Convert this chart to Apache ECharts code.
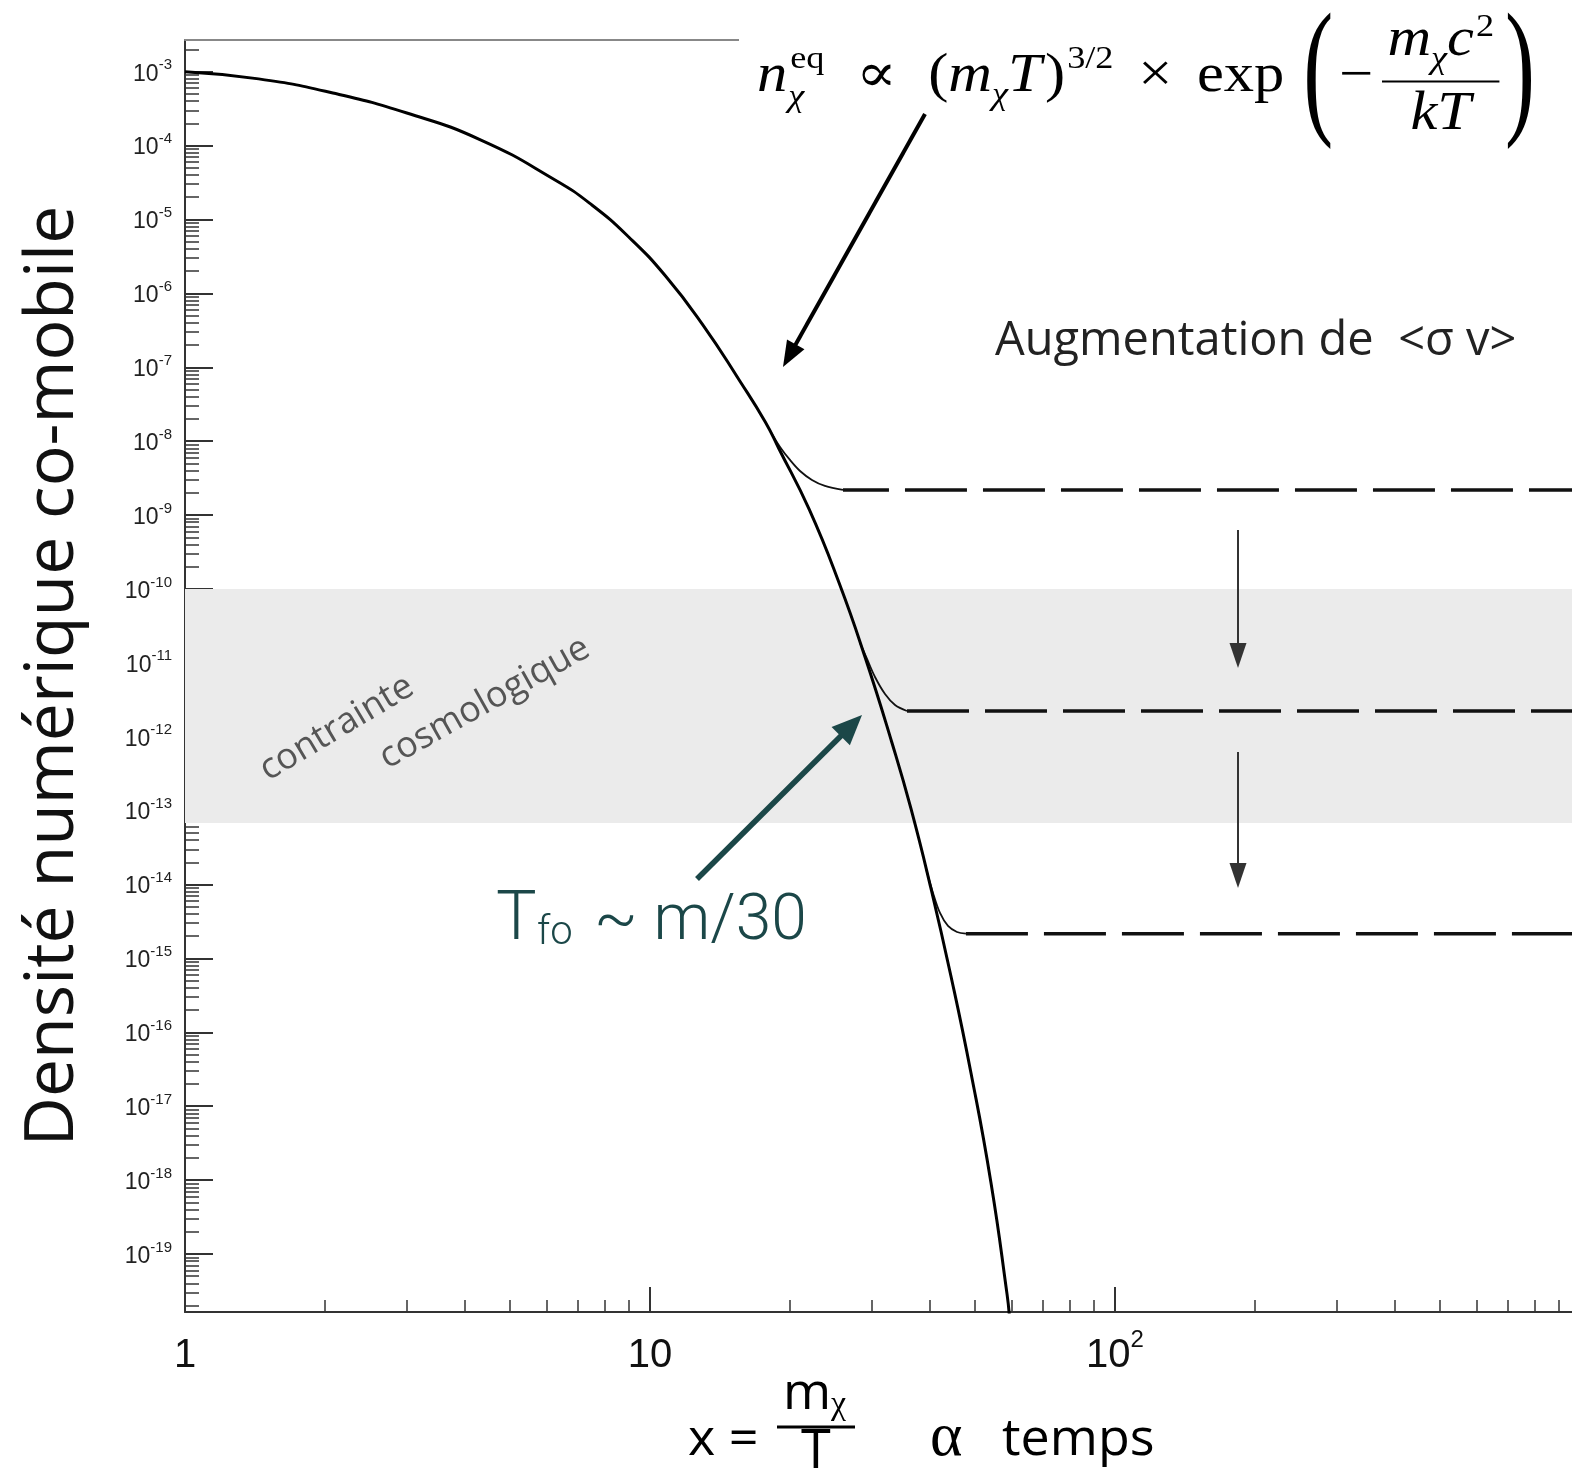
<!DOCTYPE html>
<html><head><meta charset="utf-8">
<script src="https://cdn.jsdelivr.net/npm/echarts@6/dist/echarts.min.js"></script>
<style>html,body{margin:0;padding:0;background:#fff}#c{width:1572px;height:1471px}</style>
</head><body><div id="c"></div>
<script>
// ---------- data ----------
const eqX = [1, 1.44, 2.08, 3.0, 4.33, 6.25, 7.5, 9.0, 10.8, 13.0, 15.6, 17.7, 18.9, 22.0, 25.5, 29.0, 33.1, 36.4, 40.2, 44.4, 49.0, 54.1, 58.6, 59.3];
const eqY = [1.0e-3, 8.0e-4, 5.15e-4, 2.76e-4, 1.19e-4, 3.43e-5, 1.57e-5, 5.8e-6, 1.72e-6, 3.73e-7, 6.53e-8, 1.82e-8, 8.09e-9, 1.19e-9, 1.21e-10, 1.20e-11, 8.5e-13, 1.07e-13, 8.85e-15, 5.7e-16, 2.84e-17, 9.3e-19, 2.84e-20, 1.41e-20];
const fo1X = [18.12, 19.04, 20.0, 21.02, 22.30, 23.78, 26.0];
const fo1Y = [1.39e-8, 8.36e-9, 5.57e-9, 3.95e-9, 2.99e-9, 2.48e-9, 2.19e-9];
const fo2X = [28.29, 29.29, 30.47, 32.02, 33.65, 35.7];
const fo2Y = [1.86e-11, 1.13e-11, 6.44e-12, 3.79e-12, 2.69e-12, 2.23e-12];
const fo3X = [39.23, 40.61, 42.04, 43.74, 45.73, 47.8];
const fo3Y = [1.65e-14, 7.69e-15, 4.12e-15, 2.75e-15, 2.28e-15, 2.16e-15];
const plateauStart = [26.0, 35.7, 47.8];
const plateauEnd = 1000;
const plateauY = [2.19e-9, 2.23e-12, 2.16e-15];
const bandY = [6.8e-14, 1e-10];
// tick values
const xMajor = [1, 10, 100, 1000];
const xLabelled = [1, 10, 100];
const yMajorExp = [-3, -4, -5, -6, -7, -8, -9, -10, -11, -12, -13, -14, -15, -16, -17, -18, -19];
const minorMult = [2, 3, 4, 5, 6, 7, 8, 9];

// ---------- axis ranges ----------
const xMin = 1, xMax = 1000;
const yMin = Math.pow(10, -19.785), yMax = Math.pow(10, -2.571);
const yMajor = yMajorExp.map(e => Math.pow(10, e));
const xMinor = [];
[1, 10, 100].forEach(d => minorMult.forEach(m => xMinor.push(m * d)));
const yMinor = [];
for (let k = -20; k <= -3; k++) minorMult.forEach(m => { const v = m * Math.pow(10, k); if (v > yMin && v < yMax) yMinor.push(v); });

const sans = "'Open Sans','Noto Sans',sans-serif";
const lab = "'Liberation Sans',Arial,sans-serif";
const serif = "'Liberation Serif','DejaVu Serif',serif";
const light = "Roboto,'Open Sans',sans-serif";
const teal = '#1b4748';

function pairs(xs, ys) { return xs.map((x, i) => [x, ys[i]]); }

// ---------- graphic helpers ----------
const mctx = document.createElement('canvas').getContext('2d');
function tw(t, font) { mctx.font = font; return mctx.measureText(t).width; }
const G = [];
function fontOf(size, o) { return (o.italic ? 'italic ' : '') + (o.weight ? o.weight + ' ' : '') + size + 'px ' + (o.family || serif); }
function txt(t, x, base, size, opts) {
  opts = opts || {};
  const font = fontOf(size, opts);
  G.push({ type: 'text', z: 60, x: x, y: base - (opts.mid || 0.34) * size, scaleX: opts.sx || 1,
    style: { text: t, x: 0, y: 0, font: font, fill: opts.color || '#000', align: 'left', verticalAlign: 'middle' } });
  return tw(t, font) * (opts.sx || 1);
}
function arrow(x1, y1, x2, y2, color, w, hl, hw) {
  const dx = x2 - x1, dy = y2 - y1, L = Math.hypot(dx, dy), ux = dx / L, uy = dy / L;
  const bx = x2 - ux * hl, by = y2 - uy * hl, px = -uy, py = ux;
  G.push({ type: 'line', z: 55, shape: { x1: x1, y1: y1, x2: bx + ux * 2, y2: by + uy * 2 }, style: { stroke: color, lineWidth: w } });
  G.push({ type: 'polygon', z: 55, shape: { points: [[x2, y2], [bx + px * hw / 2, by + py * hw / 2], [bx - px * hw / 2, by - py * hw / 2]] }, style: { fill: color } });
}

// white box behind the formula
G.push({ type: 'rect', z: 50, shape: { x: 739, y: 0, width: 840, height: 157 }, style: { fill: '#fff' } });

// formula  n^eq_chi ∝ (m_chi T)^{3/2} × exp(− m_chi c^2 / kT)
(function () {
  const F = 54, B = 95, SX = 1.12, X0 = 757, X1 = 1535;
  const A = B - 0.25 * F, PS = 150, PSX = 0.6;
  const seq = [
    { t: 'n', it: 1 },
    { stack: [{ t: 'eq', s: 0.6, dy: -0.45, dx: 3 }, { t: 'χ', s: 0.6, dy: 0.25, it: 1, dx: 1 }] },
    { gap: 0.28 }, { t: '∝' }, { gap: 0.28 },
    { t: '(' }, { t: 'm', it: 1 }, { t: 'χ', it: 1, s: 0.6, dy: 0.22 }, { t: 'T', it: 1 }, { gap: 0.03 }, { t: ')' },
    { t: '3/2', s: 0.6, dy: -0.45, dx: 2 },
    { gap: 0.22 }, { t: '×' }, { gap: 0.22 }, { t: 'exp' }, { gap: 0.17 },
    { paren: '(' }, { gap: 0.05 }, { t: '−' }, { gap: 0.08 }, { frac: 1 }, { gap: 0.05 }, { paren: ')' }
  ];
  const wOf = it => tw(it.t, fontOf((it.s || 1) * F, { italic: it.it })) * SX + (it.dx || 0);
  const num = [{ t: 'm', it: 1 }, { t: 'χ', it: 1, s: 0.6, dy: 0.22 }, { t: 'c', it: 1 }, { t: '2', s: 0.6, dy: -0.38, dx: 2 }];
  const numW = num.reduce((s, it) => s + wOf(it), 0);
  const denW = wOf({ t: 'kT', it: 1 });
  const fracW = Math.max(numW, denW) + 0.2 * F;
  const parW = tw('(', PS + 'px ' + serif) * PSX;
  let glyphs = 0, gaps = 0;
  seq.forEach(it => {
    if (it.gap != null) gaps += it.gap * F;
    else if (it.stack) glyphs += Math.max.apply(null, it.stack.map(wOf));
    else if (it.paren) glyphs += parW;
    else if (it.frac) glyphs += fracW;
    else glyphs += wOf(it);
  });
  const gs = Math.max(0.3, (X1 - X0 - glyphs) / gaps);
  let x = X0;
  const draw = (it, x0) => txt(it.t, x0 + (it.dx || 0), B + (it.dy || 0) * F, (it.s || 1) * F, { italic: it.it, sx: SX });
  seq.forEach(it => {
    if (it.gap != null) { x += it.gap * F * gs; return; }
    if (it.stack) { it.stack.forEach(s => draw(s, x)); x += Math.max.apply(null, it.stack.map(wOf)); return; }
    if (it.paren) { txt(it.paren, x, A + 1 + 0.31 * PS, PS, { sx: PSX }); x += parW; return; }
    if (it.frac) {
      const nb = A - 0.42 * F, db = A + 0.95 * F;
      let nx = x + (fracW - numW) / 2;
      num.forEach(n => { txt(n.t, nx + (n.dx || 0), nb + (n.dy || 0) * F, (n.s || 1) * F, { italic: n.it, sx: SX }); nx += wOf(n); });
      txt('kT', x + (fracW - denW) / 2, db, F, { italic: true, sx: SX });
      G.push({ type: 'line', z: 60, shape: { x1: x, y1: A, x2: x + fracW, y2: A }, style: { stroke: '#000', lineWidth: 2 } });
      x += fracW; return;
    }
    draw(it, x); x += wOf(it);
  });
})();

// arrows
arrow(925, 114, 783, 367, '#000', 4, 26, 20);
arrow(697, 879, 862, 715, teal, 5.5, 30, 26);
arrow(1238, 530, 1238, 668, '#333', 2, 25, 17);
arrow(1238, 752, 1238, 888, '#333', 2, 25, 17);

// texts
txt('Augmentation de  <σ v>', 995, 360, 47, { family: sans, color: '#222', mid: 0.388 });
txt('T', 496, 945, 68, { family: light, weight: 300, color: teal, mid: 0.342 });
txt('fo', 537, 948, 40, { family: light, weight: 300, color: teal, mid: 0.342 });
txt('~ m/30', 594, 945, 64, { family: light, weight: 300, color: teal, mid: 0.342 });

G.push({ type: 'text', z: 40, x: 272, y: 788, rotation: 0.54,
  style: { text: 'contrainte', font: '36px ' + sans, fill: '#555', align: 'left', verticalAlign: 'bottom' } });
G.push({ type: 'text', z: 40, x: 391, y: 776, rotation: 0.51,
  style: { text: 'cosmologique', font: '36px ' + sans, fill: '#555', align: 'left', verticalAlign: 'bottom' } });

// x axis title
txt('x =', 688, 1460, 52, { family: sans, color: '#000', mid: 0.388 });
txt('m', 783, 1414, 52, { family: sans, color: '#000', mid: 0.388 });
txt('χ', 831, 1417, 34, { family: serif, color: '#000' });
G.push({ type: 'line', z: 60, shape: { x1: 777, y1: 1427, x2: 855, y2: 1427 }, style: { stroke: '#000', lineWidth: 3 } });
txt('T', 801, 1474, 54, { family: sans, color: '#000', mid: 0.388 });
txt('α', 930, 1460, 62, { family: serif, color: '#000' });
txt('temps', 1002, 1460, 52, { family: sans, color: '#000', mid: 0.388 });

// ---------- chart ----------
const chart = echarts.init(document.getElementById('c'), null, { renderer: 'canvas' });
const ylabRich = {
  b: { fontSize: 23, fontFamily: lab, color: '#222', padding: [5, 0, 0, 0] },
  s: { fontSize: 15, fontFamily: lab, color: '#222', verticalAlign: 'top' }
};
const xlabRich = {
  b: { fontSize: 40, fontFamily: lab, color: '#111', padding: [8, 0, 0, 0] },
  s: { fontSize: 24, fontFamily: lab, color: '#111', verticalAlign: 'top' }
};
function logAxisX(extra) {
  return Object.assign({ type: 'log', logBase: 10, min: xMin, max: xMax, gridIndex: 0, splitLine: { show: false }, minorTick: { show: false } }, extra);
}
function logAxisY(extra) {
  return Object.assign({ type: 'log', logBase: 10, min: yMin, max: yMax, gridIndex: 0, splitLine: { show: false }, minorTick: { show: false } }, extra);
}

const lineBase = { type: 'line', symbol: 'none', clip: true, silent: true, xAxisIndex: 0, yAxisIndex: 0 };

const option = {
  animation: false,
  backgroundColor: '#fff',
  grid: { left: 185, top: 40, right: -8, bottom: 159, containLabel: false, outerBoundsMode: 'none' },
  xAxis: [
    logAxisX({ position: 'bottom',
      axisLine: { show: true, lineStyle: { color: '#333', width: 2 } },
      axisTick: { show: true, inside: true, length: 25, lineStyle: { color: '#333', width: 2 }, customValues: xMajor },
      axisLabel: { show: true, customValues: xLabelled, margin: 16,
        formatter: v => { const e = Math.round(Math.log10(v)); return e === 0 ? '{b|1}' : e === 1 ? '{b|10}' : '{b|10}{s|' + e + '}'; },
        rich: xlabRich } }),
    logAxisX({ position: 'bottom',
      axisLine: { show: false },
      axisTick: { show: true, inside: true, length: 12, lineStyle: { color: '#333', width: 1.5 }, customValues: xMinor },
      axisLabel: { show: false } }),
    logAxisX({ position: 'top',
      axisLine: { show: true, lineStyle: { color: '#888', width: 2 } },
      axisTick: { show: false }, axisLabel: { show: false } })
  ],
  yAxis: [
    logAxisY({ position: 'left',
      name: 'Densité numérique co-mobile', nameLocation: 'middle', nameGap: 97,
      nameTextStyle: { fontSize: 68, fontFamily: sans, color: '#111' },
      axisLine: { show: true, lineStyle: { color: '#333', width: 2 } },
      axisTick: { show: true, inside: true, length: 28, lineStyle: { color: '#333', width: 2 }, customValues: yMajor },
      axisLabel: { show: true, customValues: yMajor, margin: 13, align: 'right',
        formatter: v => '{b|10}{s|-' + Math.abs(Math.round(Math.log10(v))) + '}',
        rich: ylabRich } }),
    logAxisY({ position: 'left', offset: 0,
      axisLine: { show: false },
      axisTick: { show: true, inside: true, length: 14, lineStyle: { color: '#333', width: 1.5 }, customValues: yMinor },
      axisLabel: { show: false } })
  ],
  series: [
    Object.assign({}, lineBase, { name: 'band', data: [], z: 1,
      markArea: { silent: true, itemStyle: { color: '#ebebeb' },
        data: [[{ xAxis: xMin, yAxis: bandY[0] }, { xAxis: xMax, yAxis: bandY[1] }]] } }),
    Object.assign({}, lineBase, { name: 'eq', data: pairs(eqX, eqY), smooth: 0.5, z: 5,
      lineStyle: { color: '#000', width: 3 } }),
    Object.assign({}, lineBase, { name: 'fo1', data: pairs(fo1X, fo1Y), smooth: 0.35, z: 4, lineStyle: { color: '#111', width: 1.8 } }),
    Object.assign({}, lineBase, { name: 'fo2', data: pairs(fo2X, fo2Y), smooth: 0.35, z: 4, lineStyle: { color: '#111', width: 1.8 } }),
    Object.assign({}, lineBase, { name: 'fo3', data: pairs(fo3X, fo3Y), smooth: 0.35, z: 4, lineStyle: { color: '#111', width: 1.8 } }),
    Object.assign({}, lineBase, { name: 'p1', data: [[plateauStart[0], plateauY[0]], [plateauEnd, plateauY[0]]], z: 4,
      lineStyle: { color: '#111', width: 3.5, type: [62, 16], dashOffset: 16 } }),
    Object.assign({}, lineBase, { name: 'p2', data: [[plateauStart[1], plateauY[1]], [plateauEnd, plateauY[1]]], z: 4,
      lineStyle: { color: '#111', width: 3.5, type: [62, 16], dashOffset: 0 } }),
    Object.assign({}, lineBase, { name: 'p3', data: [[plateauStart[2], plateauY[2]], [plateauEnd, plateauY[2]]], z: 4,
      lineStyle: { color: '#111', width: 3.5, type: [62, 16], dashOffset: 0 } })
  ],
  graphic: G
};
chart.setOption(option);
</script>
</body></html>
